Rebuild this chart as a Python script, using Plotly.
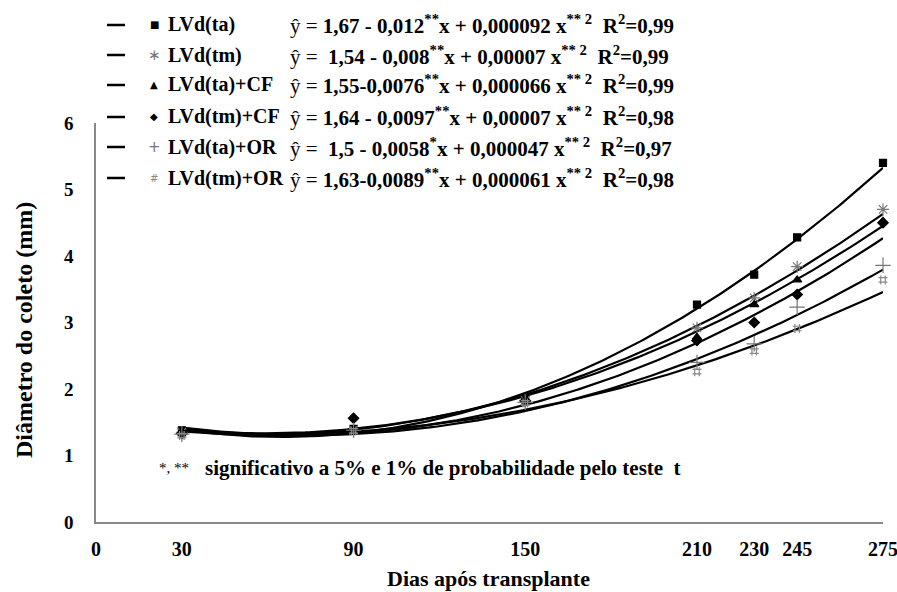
import numpy as np
import plotly.graph_objects as go

# ---- data ----
days = [30, 90, 150, 210, 230, 245, 275]
series_names = ["LVd(ta)", "LVd(tm)", "LVd(ta)+CF", "LVd(tm)+CF", "LVd(ta)+OR", "LVd(tm)+OR"]
obs_ta = [1.38, 1.40, 1.85, 3.27, 3.72, 4.28, 5.40]
obs_tm = [1.35, 1.38, 1.83, 2.92, 3.37, 3.84, 4.70]
obs_ta_cf = [1.36, 1.40, 1.84, 2.78, 3.27, 3.64, 4.52]
obs_tm_cf = [1.33, 1.56, 1.82, 2.73, 3.00, 3.42, 4.50]
obs_ta_or = [1.32, 1.38, 1.80, 2.40, 2.68, 3.23, 3.86]
obs_tm_or = [1.30, 1.37, 1.79, 2.26, 2.57, 2.91, 3.64]
# quadratic coefficients (a, b, c) of y = a + b x + c x^2
coef_a = [1.67, 1.54, 1.55, 1.64, 1.50, 1.63]
coef_b = [-0.012, -0.008, -0.0076, -0.0097, -0.0058, -0.0089]
coef_c = [0.000092, 0.00007, 0.000066, 0.00007, 0.000047, 0.000061]
equations = [
    "1,67 - 0,012<sup>**</sup>x + 0,000092 x<sup>** 2</sup>  R<sup>2</sup>=0,99",
    " 1,54 - 0,008<sup>**</sup>x + 0,00007 x<sup>** 2</sup>  R<sup>2</sup>=0,99",
    "1,55-0,0076<sup>**</sup>x + 0,000066 x<sup>** 2</sup>  R<sup>2</sup>=0,99",
    "1,64 - 0,0097<sup>**</sup>x + 0,00007 x<sup>** 2</sup>  R<sup>2</sup>=0,98",
    " 1,5 - 0,0058<sup>*</sup>x + 0,000047 x<sup>** 2</sup>  R<sup>2</sup>=0,97",
    "1,63-0,0089<sup>**</sup>x + 0,000061 x<sup>** 2</sup>  R<sup>2</sup>=0,98",
]
x_ticks = [0, 30, 90, 150, 210, 230, 245, 275]
y_ticks = [0, 1, 2, 3, 4, 5, 6]

observed = [obs_ta, obs_tm, obs_ta_cf, obs_tm_cf, obs_ta_or, obs_tm_or]
symbols = ["square", "asterisk-open", "triangle-up", "diamond", "cross-thin-open", "hash-open"]
mcolors = ["black", "#777777", "black", "black", "#777777", "#888888"]
msizes = [7, 10, 8, 8, 11, 9]
legend_chars = ["■", "∗", "▲", "◆", "+", "#"]
legend_char_sizes = [10, 15, 10, 10, 15, 10]

FONT = "Liberation Serif"
L, R, T, B = 96, 14, 123, 70
W, H = 897, 592
PW, PH = W - L - R, H - T - B


def px(xp):
    return (xp - L) / PW


def py(yp):
    return (H - B - yp) / PH


fig = go.Figure()

xs = np.linspace(min(days), max(days), 200)
for i, name in enumerate(series_names):
    ys = coef_a[i] + coef_b[i] * xs + coef_c[i] * xs ** 2
    fig.add_trace(go.Scatter(x=xs, y=ys, mode="lines",
                             line=dict(color="black", width=2.2),
                             showlegend=False, hoverinfo="skip", cliponaxis=False))
for i, name in enumerate(series_names):
    fig.add_trace(go.Scatter(x=days, y=observed[i], mode="markers", name=name,
                             marker=dict(symbol=symbols[i], color=mcolors[i], size=msizes[i],
                                         line=dict(color=mcolors[i], width=1.2)),
                             cliponaxis=False, showlegend=False))

row_y = [25, 55, 85, 117, 147, 178]
ann = []
shapes = []
for i, name in enumerate(series_names):
    yy = py(row_y[i])
    shapes.append(dict(type="line", xref="paper", yref="paper", x0=px(107), x1=px(125), y0=yy, y1=yy,
                       line=dict(color="black", width=2.5)))
    ann.append(dict(x=px(154), y=yy, xref="paper", yref="paper", xanchor="center", yanchor="middle",
                    text=legend_chars[i], showarrow=False,
                    font=dict(family="DejaVu Sans", size=legend_char_sizes[i], color=mcolors[i])))
    ann.append(dict(x=px(166), y=yy, xref="paper", yref="paper", xanchor="left", yanchor="middle",
                    text="<b>" + name + "</b>", showarrow=False,
                    font=dict(family=FONT, size=20, color="black")))
    ann.append(dict(x=px(288), y=yy, xref="paper", yref="paper", xanchor="left", yanchor="middle",
                    text="ŷ = <b>" + equations[i] + "</b>", showarrow=False,
                    font=dict(family=FONT, size=21, color="black")))

ann.append(dict(x=px(157), y=py(468), xref="paper", yref="paper", xanchor="left", yanchor="middle",
                text="*, **", showarrow=False, font=dict(family=FONT, size=15, color="black")))
ann.append(dict(x=px(203), y=py(468), xref="paper", yref="paper", xanchor="left", yanchor="middle",
                text="<b>significativo a 5% e 1% de probabilidade pelo teste  t</b>", showarrow=False,
                font=dict(family=FONT, size=21, color="black")))
# axis titles
ann.append(dict(x=px(488), y=py(578), xref="paper", yref="paper", xanchor="center", yanchor="middle",
                text="<b>Dias após transplante</b>", showarrow=False,
                font=dict(family=FONT, size=22, color="black")))
ann.append(dict(x=px(24), y=py(330), xref="paper", yref="paper", xanchor="center", yanchor="middle",
                text="<b>Diâmetro do coleto (mm)</b>", showarrow=False, textangle=-90,
                font=dict(family=FONT, size=24, color="black")))

fig.update_layout(
    width=W, height=H,
    margin=dict(l=L, r=R, t=T, b=B),
    paper_bgcolor="white", plot_bgcolor="white",
    font=dict(family=FONT, color="black"),
    annotations=ann,
    shapes=shapes,
    xaxis=dict(range=[0, 275], tickvals=x_ticks, ticktext=["<b>%d</b>" % v for v in x_ticks],
               showgrid=False, zeroline=False, showline=True, linecolor="#888888", linewidth=1.5,
               ticks="", ticklabelstandoff=8, automargin=False, ticklabeloverflow="allow",
               tickfont=dict(family=FONT, size=20, color="black")),
    yaxis=dict(range=[0, 6], tickvals=y_ticks, ticktext=["<b>%d</b>" % v for v in y_ticks],
               showgrid=False, zeroline=False, showline=True, linecolor="#888888", linewidth=1.5,
               ticks="", ticklabelstandoff=17, automargin=False,
               tickfont=dict(family=FONT, size=19, color="black")),
)

fig.write_html("out.html")
